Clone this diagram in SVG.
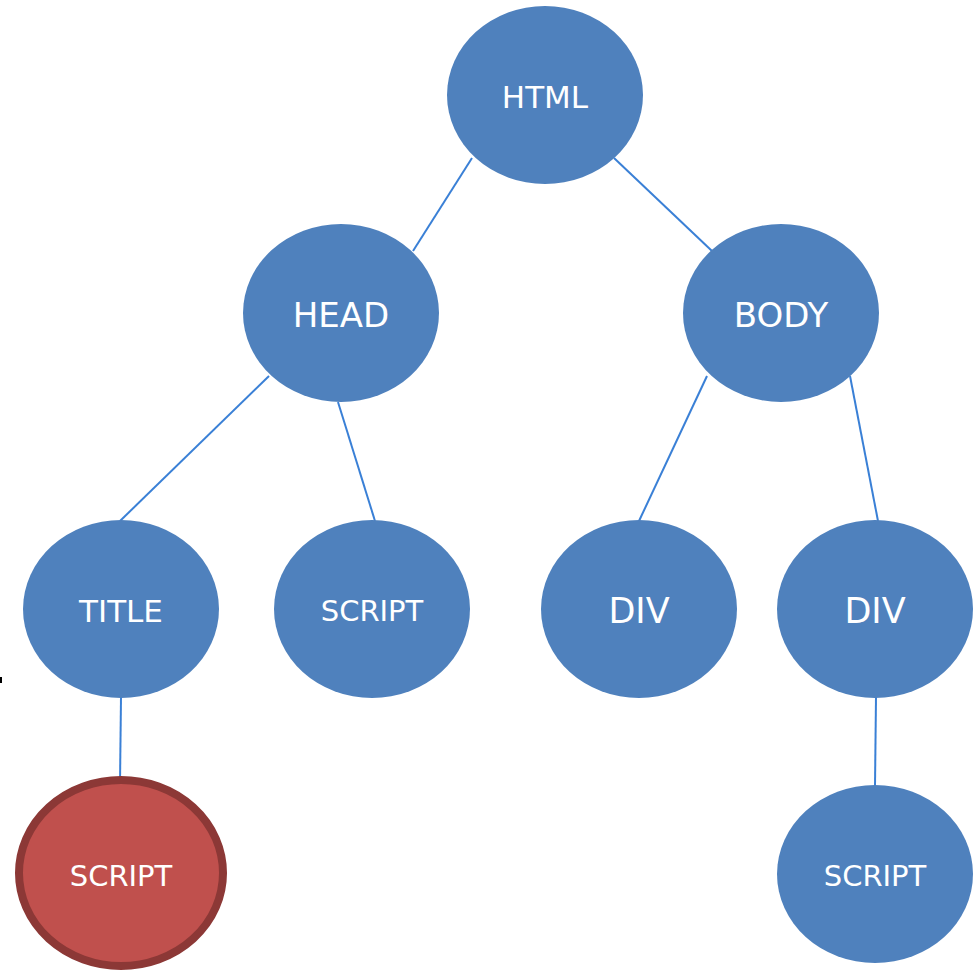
<svg xmlns="http://www.w3.org/2000/svg" width="976" height="970" viewBox="0 0 976 970">
  <style>
    .node { fill: #4F81BD; }
    .hot { fill: #C0504D; stroke: #8C3836; stroke-width: 8; }
    .edge { stroke: #3A80D6; stroke-width: 2; fill: none; }
    .label { fill: #FFFFFF; font-family: "DejaVu Sans", "Liberation Sans", sans-serif; text-anchor: middle; }
  </style>
  <rect width="976" height="970" fill="#FFFFFF"/>
  <rect x="0" y="677" width="2" height="6" fill="#000000"/>
  <g id="connectors">
    <line class="edge" x1="472" y1="158" x2="413" y2="251"/>
    <line class="edge" x1="614" y1="158" x2="712" y2="251"/>
    <line class="edge" x1="269" y1="376" x2="120" y2="521"/>
    <line class="edge" x1="338" y1="402" x2="375" y2="521"/>
    <line class="edge" x1="707" y1="376" x2="639" y2="521"/>
    <line class="edge" x1="850" y1="376" x2="878" y2="521"/>
    <line class="edge" x1="121" y1="697" x2="120" y2="784"/>
    <line class="edge" x1="876" y1="697" x2="875" y2="786"/>
  </g>
  <g id="html">
    <ellipse class="node" cx="545" cy="95" rx="98" ry="89"/>
    <text class="label" x="545" y="108" font-size="31">HTML</text>
  </g>
  <g id="head">
    <ellipse class="node" cx="341" cy="313" rx="98" ry="89"/>
    <text class="label" x="341" y="327" font-size="34">HEAD</text>
  </g>
  <g id="body">
    <ellipse class="node" cx="781" cy="313" rx="98" ry="89"/>
    <text class="label" x="781" y="327" font-size="34">BODY</text>
  </g>
  <g id="title">
    <ellipse class="node" cx="121" cy="609" rx="98" ry="89"/>
    <text class="label" x="121" y="622" font-size="31">TITLE</text>
  </g>
  <g id="head-script">
    <ellipse class="node" cx="372" cy="609" rx="98" ry="89"/>
    <text class="label" x="372" y="621" font-size="29">SCRIPT</text>
  </g>
  <g id="div-1">
    <ellipse class="node" cx="639" cy="609" rx="98" ry="89"/>
    <text class="label" x="639" y="623" font-size="35">DIV</text>
  </g>
  <g id="div-2">
    <ellipse class="node" cx="875" cy="609" rx="98" ry="89"/>
    <text class="label" x="875" y="623" font-size="35">DIV</text>
  </g>
  <g id="title-script">
    <ellipse class="hot" cx="121" cy="873" rx="102" ry="93"/>
    <text class="label" x="121" y="886" font-size="29">SCRIPT</text>
  </g>
  <g id="div-script">
    <ellipse class="node" cx="875" cy="874" rx="98" ry="89"/>
    <text class="label" x="875" y="886" font-size="29">SCRIPT</text>
  </g>
</svg>
